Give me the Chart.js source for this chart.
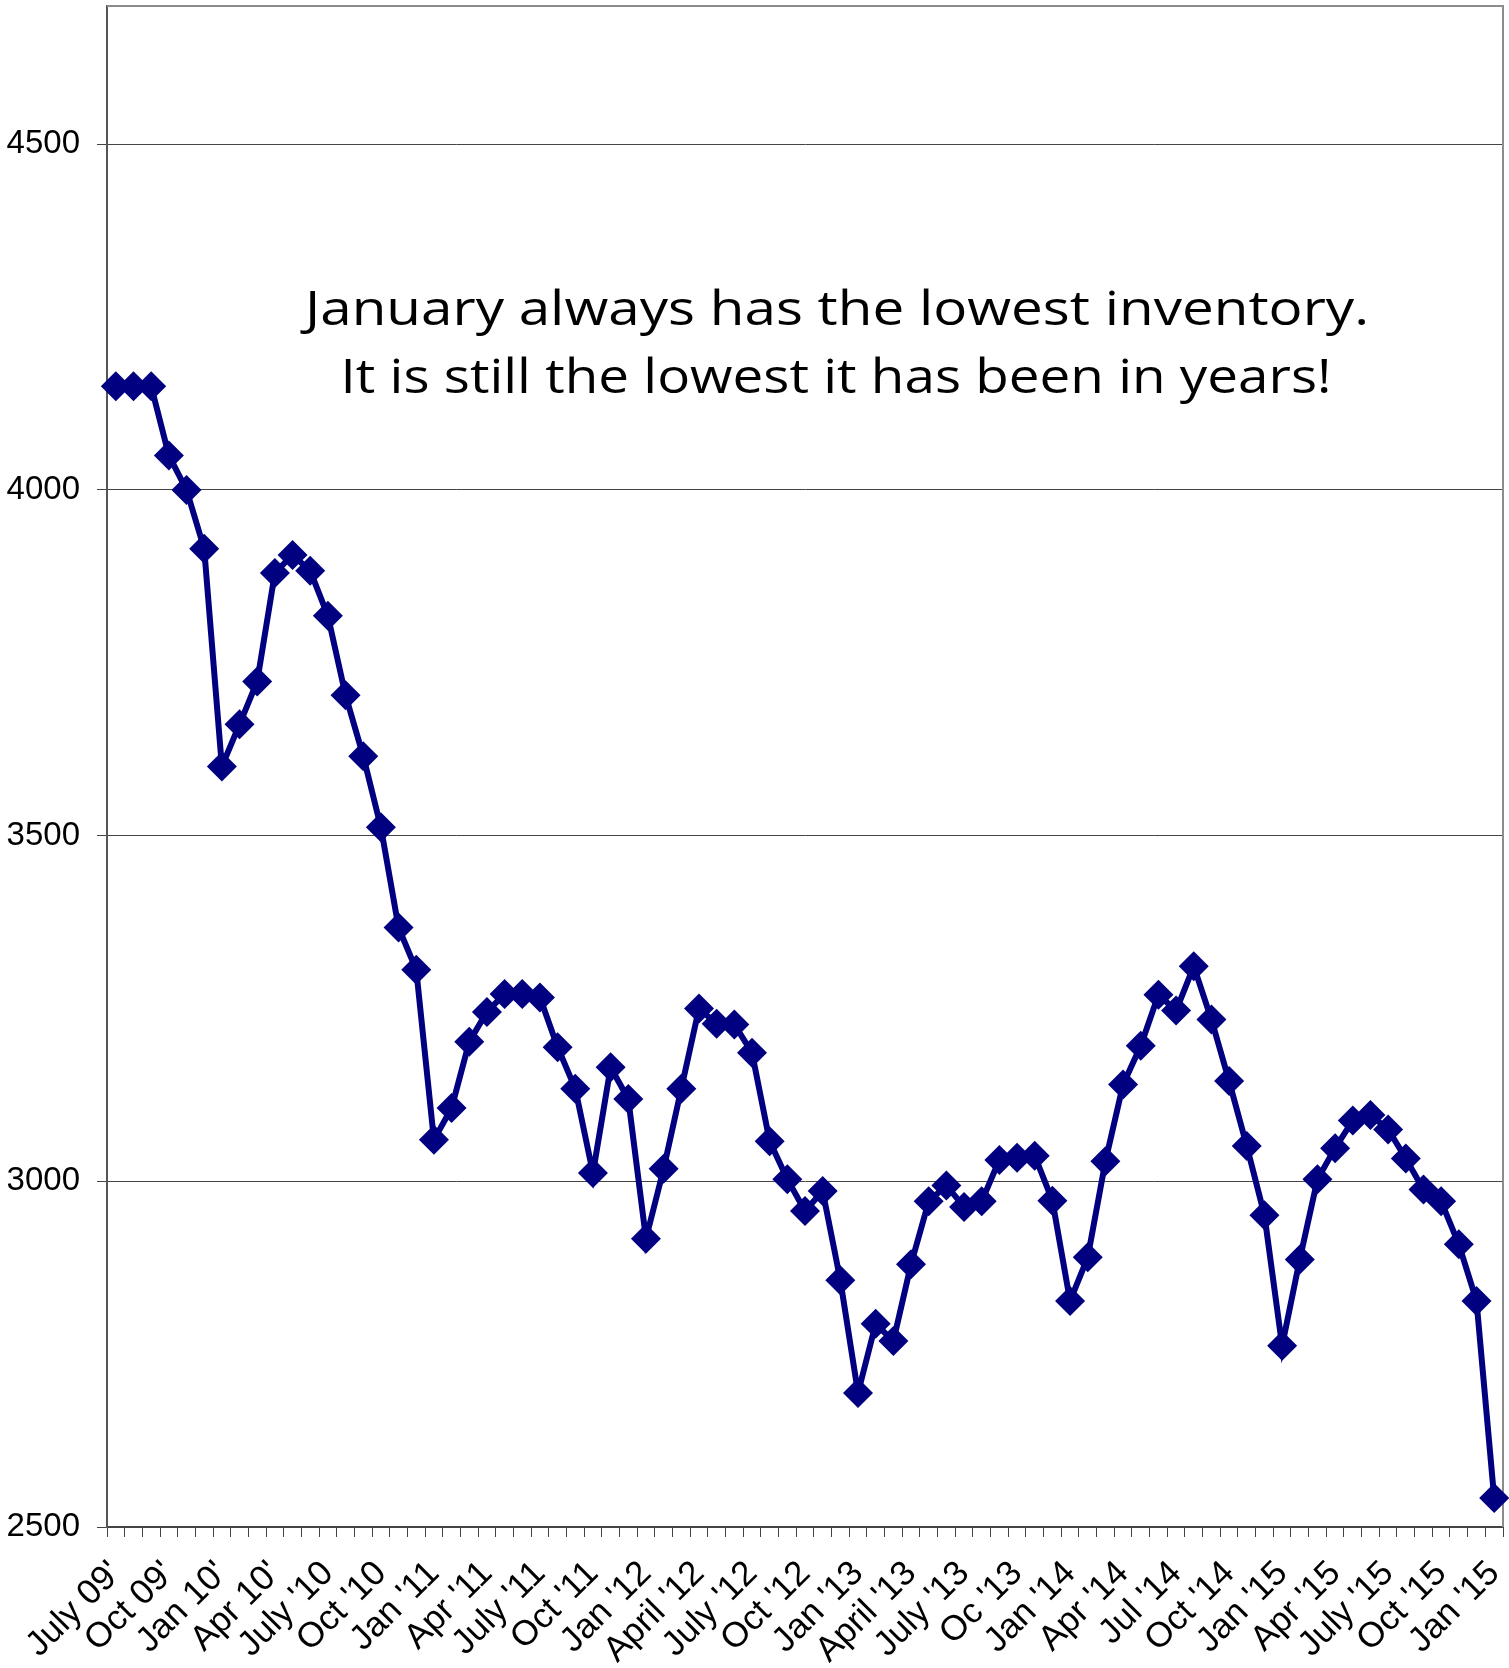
<!DOCTYPE html>
<html>
<head>
<meta charset="utf-8">
<script src="https://cdn.jsdelivr.net/npm/chart.js@4/dist/chart.umd.min.js"></script>
<style>
  body { margin: 0; background: #fff; }
  #wrap { width: 1509px; height: 1668px; }
</style>
</head>
<body>
<div id="wrap"><canvas id="inventoryChart"></canvas></div>
<script>
// monthly inventory, July 09 through Jan (last), one value per month
var inventory = [
  4150, 4150, 4150, 4050, 4000, 3915, 3600, 3661, 3723, 3880,
  3906, 3883, 3818, 3703, 3615, 3512, 3367, 3306, 3060, 3106,
  3202, 3245, 3271, 3271, 3266, 3194, 3134, 3012, 3165, 3119,
  2917, 3018, 3134, 3250, 3228, 3227, 3186, 3058, 3003, 2957,
  2986, 2857, 2694, 2794, 2769, 2880, 2971, 2994, 2963, 2971,
  3031, 3034, 3037, 2972, 2827, 2890, 3029, 3140, 3196, 3270,
  3247, 3311, 3234, 3145, 3051, 2951, 2762, 2887, 3003, 3048,
  3088, 3096, 3075, 3033, 2988, 2971, 2909, 2827, 2542
];

// every third month gets a label on the axis
var tickLabels = [
  "July 09'", "Oct 09'", "Jan 10'", "Apr 10'", "July '10", "Oct '10",
  "Jan '11", "Apr '11", "July '11", "Oct '11", "Jan '12", "April '12",
  "July '12", "Oct '12", "Jan '13", "April '13", "July '13", "Oc '13",
  "Jan '14", "Apr '14", "Jul '14", "Oct '14", "Jan '15", "Apr '15",
  "July '15", "Oct '15", "Jan '15"
];

var yTicks = [2500, 3000, 3500, 4000, 4500];

var noteLines = [
  'January always has the lowest inventory.',
  'It is still the lowest it has been in years!'
];

var categories = inventory.map(function (v, i) {
  return i % 3 === 0 ? tickLabels[i / 3] : '';
});

// note text: centre x, baseline y, target width
var notePos = [[837, 325, 1064], [836, 393, 991]];

// frame on the top and right of the plot, plus the note text
var framePlugin = {
  id: 'frame',
  beforeDatasetsDraw: function (chart) {
    var a = chart.chartArea, ctx = chart.ctx;
    ctx.save();
    ctx.strokeStyle = '#8c8c8c';
    ctx.lineWidth = 2;
    ctx.beginPath();
    ctx.moveTo(a.left, a.top);
    ctx.lineTo(a.right, a.top);
    ctx.lineTo(a.right, a.bottom);
    ctx.stroke();

    ctx.fillStyle = '#000';
    ctx.font = '47px "Open Sans"';
    ctx.textAlign = 'center';
    ctx.textBaseline = 'alphabetic';
    noteLines.forEach(function (line, i) {
      var p = notePos[i];
      var sx = p[2] / ctx.measureText(line).width;
      ctx.save();
      ctx.translate(p[0], p[1]);
      ctx.scale(sx, 1);
      ctx.fillText(line, 0, 0);
      ctx.restore();
    });
    ctx.restore();
  }
};

var ctx = document.getElementById('inventoryChart').getContext('2d');
var inventoryChart = new Chart(ctx, {
  type: 'line',
  data: {
    labels: categories,
    datasets: [{
      label: 'Inventory',
      data: inventory,
      borderColor: '#000080',
      borderWidth: 6,
      backgroundColor: '#000080',
      pointStyle: 'rectRot',
      pointRadius: 15,
      pointBorderWidth: 0,
      pointBackgroundColor: '#000080',
      tension: 0,
      clip: false
    }]
  },
  options: {
    responsive: true,
    maintainAspectRatio: false,
    animation: false,
    layout: { autoPadding: false, padding: { top: 6, right: 6, left: 0, bottom: 0 } },
    plugins: {
      legend: { display: false },
      tooltip: { enabled: false }
    },
    scales: {
      x: {
        type: 'category',
        offset: true,
        afterFit: function (s) {
          s.height = 141;
          s.paddingLeft = 0;
          s.paddingRight = 0;
        },
        grid: {
          offset: true,
          drawOnChartArea: false,
          drawTicks: true,
          tickLength: 10,
          color: '#444'
        },
        border: { color: '#444', width: 2 },
        ticks: {
          autoSkip: false,
          minRotation: 45,
          maxRotation: 45,
          padding: 16,
          color: '#000',
          font: { family: '"Liberation Sans", Arial', size: 35 }
        }
      },
      y: {
        min: 2500,
        max: 4700,
        afterFit: function (s) {
          s.width = 107;
          s.paddingTop = 0;
          s.paddingBottom = 0;
        },
        afterBuildTicks: function (s) {
          s.ticks = yTicks.map(function (v) { return { value: v }; });
        },
        grid: {
          color: '#444',
          lineWidth: 1,
          tickLength: 10
        },
        border: { color: '#555', width: 2 },
        ticks: {
          padding: 17,
          color: '#000',
          font: { family: '"Liberation Sans", Arial', size: 33 },
          callback: function (v) { return String(v); }
        }
      }
    }
  },
  plugins: [framePlugin]
});
</script>
</body>
</html>
